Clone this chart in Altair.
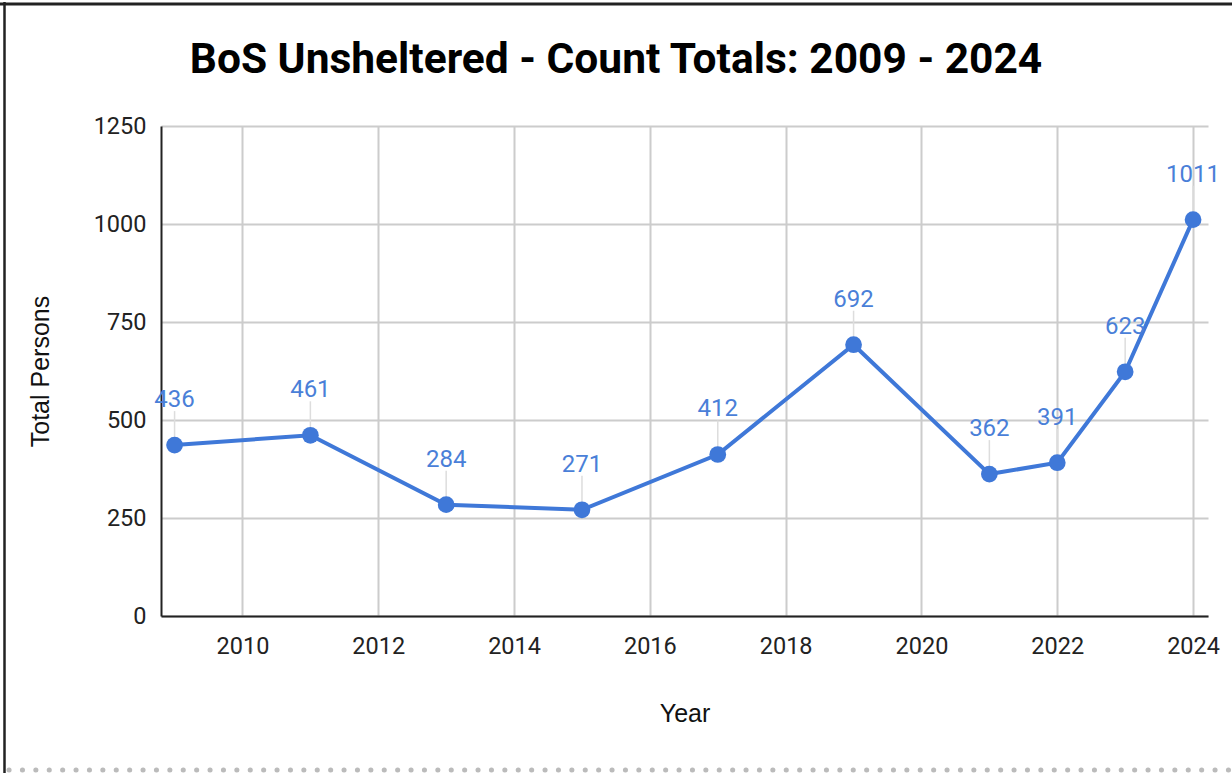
import altair as alt
import pandas as pd

years = [2009, 2011, 2013, 2015, 2017, 2019, 2021, 2022, 2023, 2024]
totals = [436, 461, 284, 271, 412, 692, 362, 391, 623, 1011]
x_ticks = [2010, 2012, 2014, 2016, 2018, 2020, 2022, 2024]
y_ticks = [0, 250, 500, 750, 1000, 1250]
title_text = "BoS Unsheltered - Count Totals: 2009 - 2024"

df = pd.DataFrame({"Year": years, "Total": totals})
one = pd.DataFrame({"t": [title_text]})

BLUE = "#3f78d8"
LABEL_BLUE = "#4a7fd8"

x = alt.X("Year:Q", title="Year",
          scale=alt.Scale(domain=[2008.8, 2024.22], nice=False, zero=False),
          axis=alt.Axis(values=x_ticks, format="d", grid=True, tickSize=0,
                        labelPadding=18, titlePadding=44))
y = alt.Y("Total:Q", title="Total Persons",
          scale=alt.Scale(domain=[0, 1250], nice=False),
          axis=alt.Axis(values=y_ticks, format="d", grid=True, tickSize=0,
                        labelPadding=15, titlePadding=40))

base = alt.Chart(df)

leaders = base.mark_rule(color="#dddddd", strokeWidth=1.5, y2Offset=-34).encode(
    x=x, y=y, y2=alt.Y2("Total:Q"))
line = base.mark_line(color=BLUE, strokeWidth=4).encode(x=x, y=y)
points = base.mark_point(filled=True, color=BLUE, size=280, opacity=1).encode(x=x, y=y)
labels = base.mark_text(color=LABEL_BLUE, font="Roboto", fontSize=24,
                        baseline="middle", dy=-45).encode(
    x=x, y=y, text=alt.Text("Total:Q", format="d"))

deco = alt.Chart(one)
title = deco.mark_text(font="Roboto", fontSize=42.5, fontWeight="bold", color="#000000",
                       align="center", baseline="alphabetic").encode(
    x=alt.value(455), y=alt.value(-53), text="t:N")
top_border = deco.mark_rule(color="#222222", strokeWidth=3).encode(
    x=alt.value(-161), x2=alt.value(1071), y=alt.value(-122))
left_border = deco.mark_rule(color="#222222", strokeWidth=2.5).encode(
    x=alt.value(-156.5), y=alt.value(-124), y2=alt.value(647))
dots = deco.mark_rule(color="#bbbbbb", strokeWidth=5, strokeCap="round",
                      strokeDash=[0.1, 13.3]).encode(
    x=alt.value(-152), x2=alt.value(1071), y=alt.value(644))

chart = alt.layer(leaders, line, points, labels, title, top_border, left_border, dots).properties(
    width=1047, height=490,
    background="white",
    autosize=alt.AutoSizeParams(type="none"),
    padding={"left": 161, "top": 126, "right": 24, "bottom": 157},
).configure_view(stroke=None).configure_axis(
    labelFont="Roboto", labelFontSize=23.5, labelColor="#222222",
    titleFont="Liberation Sans", titleFontSize=25, titleFontWeight="normal",
    titleColor="#111111",
    gridColor="#cccccc", gridWidth=2,
    domainColor="#222222", domainWidth=2,
)

chart.save("out.html", embed_options={"renderer": "svg", "actions": False})
